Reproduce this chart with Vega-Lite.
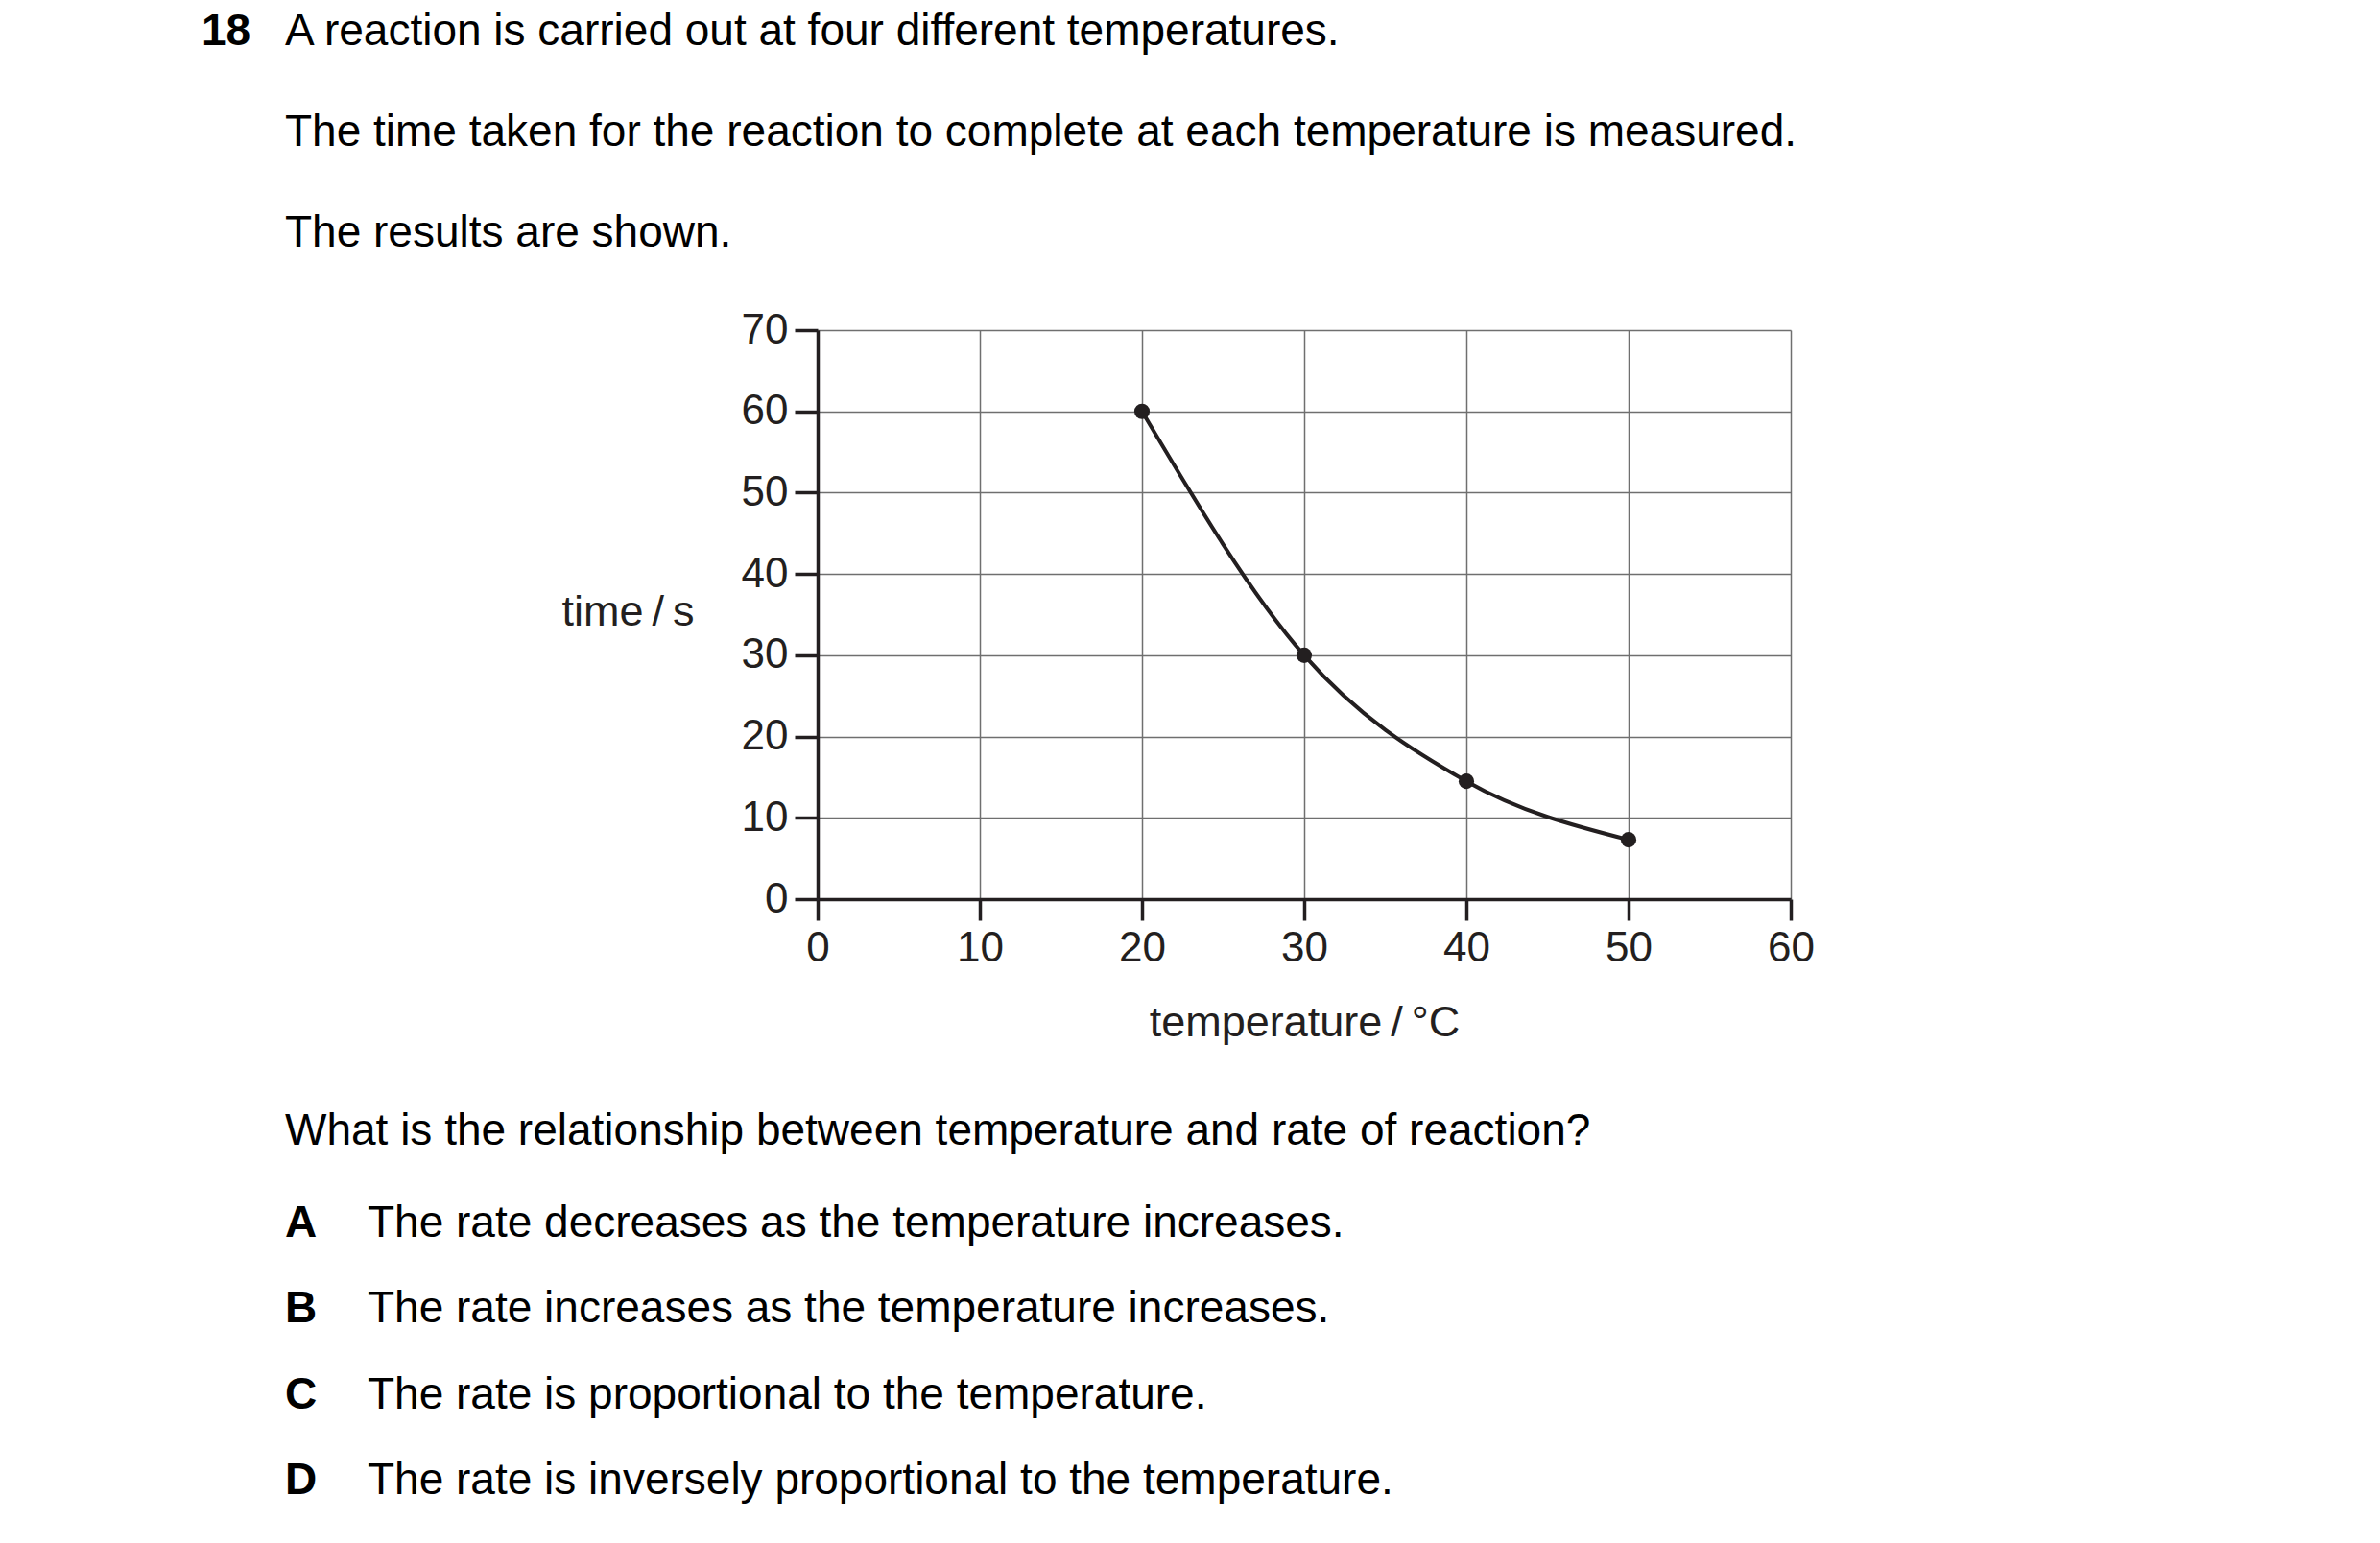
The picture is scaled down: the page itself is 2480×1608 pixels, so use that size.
{
  "$schema": "https://vega.github.io/schema/vega-lite/v6.json",
  "width": 1014,
  "height": 593,
  "autosize": {"type": "none"},
  "padding": {"left": 852, "top": 344, "right": 614, "bottom": 671},
  "background": "white",
  "config": {"view": {"stroke": null}, "font": "Liberation Sans"},
  "datasets": {
    "results": [
      {"temperature": 20, "time": 60},
      {"temperature": 30, "time": 30},
      {"temperature": 40, "time": 14.5},
      {"temperature": 50, "time": 7.3}
    ],
    "header": [
      {"num": "18", "text": "A reaction is carried out at four different temperatures."},
      {"num": "", "text": "The time taken for the reaction to complete at each temperature is measured."},
      {"num": "", "text": "The results are shown."}
    ],
    "question": [
      {"text": "What is the relationship between temperature and rate of reaction?"}
    ],
    "options": [
      {"letter": "A", "text": "The rate decreases as the temperature increases."},
      {"letter": "B", "text": "The rate increases as the temperature increases."},
      {"letter": "C", "text": "The rate is proportional to the temperature."},
      {"letter": "D", "text": "The rate is inversely proportional to the temperature."}
    ]
  },
  "resolve": {"scale": {"y": "independent"}},
  "layer": [
    {
      "data": {"name": "results"},
      "encoding": {
        "x": {
          "field": "temperature",
          "type": "quantitative",
          "scale": {"domain": [0, 60], "nice": false, "zero": false},
          "axis": {
            "values": [0, 10, 20, 30, 40, 50, 60],
            "grid": true,
            "gridColor": "#6f6f6f",
            "gridWidth": 1.5,
            "domainColor": "#231f20",
            "domainWidth": 3.5,
            "tickColor": "#231f20",
            "tickWidth": 3.5,
            "tickSize": 22,
            "labelFont": "Liberation Sans",
            "labelFontSize": 44,
            "labelColor": "#231f20",
            "labelPadding": 7,
            "labelFlush": false,
            "labelOverlap": false,
            "title": "temperature\u2009/\u2009°C",
            "titleFont": "Liberation Sans",
            "titleFontSize": 45,
            "titleFontWeight": "normal",
            "titleColor": "#231f20",
            "titleBaseline": "alphabetic",
            "titleY": 142
          }
        },
        "y": {
          "field": "time",
          "type": "quantitative",
          "scale": {"domain": [0, 70], "nice": false},
          "axis": {
            "values": [0, 10, 20, 30, 40, 50, 60, 70],
            "grid": true,
            "gridColor": "#6f6f6f",
            "gridWidth": 1.5,
            "domainColor": "#231f20",
            "domainWidth": 3.5,
            "tickColor": "#231f20",
            "tickWidth": 3.5,
            "tickSize": 24,
            "labelFont": "Liberation Sans",
            "labelFontSize": 44,
            "labelColor": "#231f20",
            "labelPadding": 7,
            "labelFlush": false,
            "labelOverlap": false,
            "title": "time\u2009/\u2009s",
            "titleFont": "Liberation Sans",
            "titleFontSize": 45,
            "titleFontWeight": "normal",
            "titleColor": "#231f20",
            "titleAngle": 0,
            "titleAlign": "center",
            "titleBaseline": "alphabetic",
            "titleX": -198,
            "titleY": 307
          }
        }
      },
      "layer": [
        {"mark": {"type": "line", "interpolate": "monotone", "color": "#231f20", "strokeWidth": 4}},
        {"mark": {"type": "point", "filled": true, "size": 260, "color": "#231f20", "opacity": 1}}
      ]
    },
    {
      "data": {"name": "header"},
      "mark": {"type": "text", "align": "left", "baseline": "alphabetic", "dx": -1062, "fontSize": 46, "font": "Liberation Sans", "color": "#000000"},
      "encoding": {
        "y": {"field": "text", "type": "nominal", "sort": null, "scale": {"type": "point", "range": [-297.3, -87], "padding": 0}, "axis": null},
        "text": {"field": "text"}
      }
    },
    {
      "data": {"name": "header"},
      "mark": {"type": "text", "align": "left", "baseline": "alphabetic", "dx": -1149, "fontSize": 46, "fontWeight": "bold", "font": "Liberation Sans", "color": "#000000"},
      "encoding": {
        "y": {"field": "text", "type": "nominal", "sort": null, "scale": {"type": "point", "range": [-297.3, -87], "padding": 0}, "axis": null},
        "text": {"field": "num"}
      }
    },
    {
      "data": {"name": "question"},
      "mark": {"type": "text", "align": "left", "baseline": "alphabetic", "dx": -1062, "fontSize": 46, "font": "Liberation Sans", "color": "#000000"},
      "encoding": {
        "y": {"field": "text", "type": "nominal", "scale": {"type": "point", "range": [848.5, 848.5], "padding": 0}, "axis": null},
        "text": {"field": "text"}
      }
    },
    {
      "data": {"name": "options"},
      "mark": {"type": "text", "align": "left", "baseline": "alphabetic", "dx": -976, "fontSize": 46, "font": "Liberation Sans", "color": "#000000"},
      "encoding": {
        "y": {"field": "letter", "type": "nominal", "sort": null, "scale": {"type": "point", "range": [944.5, 1213], "padding": 0}, "axis": null},
        "text": {"field": "text"}
      }
    },
    {
      "data": {"name": "options"},
      "mark": {"type": "text", "align": "left", "baseline": "alphabetic", "dx": -1062, "fontSize": 46, "fontWeight": "bold", "font": "Liberation Sans", "color": "#000000"},
      "encoding": {
        "y": {"field": "letter", "type": "nominal", "sort": null, "scale": {"type": "point", "range": [944.5, 1213], "padding": 0}, "axis": null},
        "text": {"field": "letter"}
      }
    }
  ]
}
